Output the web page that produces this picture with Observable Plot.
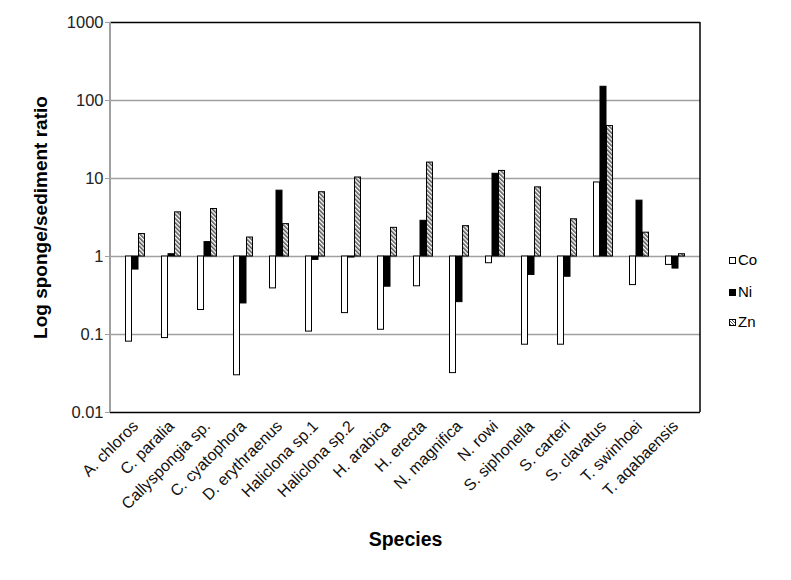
<!DOCTYPE html>
<html>
<head>
<meta charset="utf-8">
<script src="https://cdn.jsdelivr.net/npm/d3@7"></script>
<script src="https://cdn.jsdelivr.net/npm/@observablehq/plot@0.6"></script>
<style>
  html, body { margin: 0; padding: 0; background: #fff; }
  #wrap { position: relative; width: 791px; height: 580px; font-family: "Liberation Sans", Arial, sans-serif; }
  #wrap svg { position: absolute; left: 0; top: 0; }
  .legend { position: absolute; left: 729px; top: 0; font-size: 15px; color: #000; }
  .legend .item { position: absolute; left: 0; white-space: nowrap; line-height: 15px; }
  .legend .sw { display: inline-block; width: 5px; height: 5px; border: 1px solid #000; margin-right: 2px; vertical-align: 1px; }
</style>
</head>
<body>
<div id="wrap"></div>
<script>
const species = ["A. chloros","C. paralia","Callyspongia sp.","C. cyatophora","D. erythraenus","Haliclona sp.1","Haliclona sp.2","H. arabica","H. erecta","N. magnifica","N. rowi","S. siphonella","S. carteri","S. clavatus","T. swinhoei","T. aqabaensis"];
const co = [0.081,0.09,0.206,0.030,0.39,0.109,0.188,0.115,0.415,0.032,0.82,0.074,0.074,8.9,0.43,0.78];
const ni = [0.68,1.07,1.53,0.25,6.98,0.905,0.97,0.41,2.87,0.26,11.5,0.58,0.55,150,5.2,0.70];
const zn = [1.94,3.68,4.06,1.75,2.6,6.67,10.3,2.33,16.0,2.45,12.5,7.7,3.0,47,2.02,1.07];
const metals = ["Co","Ni","Zn"];
const yTicks = [0.01,0.1,1,10,100,1000];
const yTickLabels = ["0.01","0.1","1","10","100","1000"];
const gridValues = [0.1,1,10,100];
const frameValues = [0.01,1000];

const rows = species.map((s,i)=>({species:s, Co:co[i], Ni:ni[i], Zn:zn[i]}));
const font = "'Liberation Sans', Arial, sans-serif";

// vertical frame side as a function mark (uses the plot's own dimensions)
function sideLine(side, color, w) {
  return (index, scales, values, dimensions) => {
    const {width, height, marginLeft, marginRight, marginTop, marginBottom} = dimensions;
    const x = side === "left" ? marginLeft : width - marginRight;
    return d3.create("svg:line")
      .attr("x1", x).attr("x2", x)
      .attr("y1", marginTop).attr("y2", height - marginBottom)
      .attr("stroke", color).attr("stroke-width", w).node();
  };
}

const chart = Plot.plot({
  width: 791,
  height: 580,
  marginLeft: 110,
  marginRight: 91,
  marginTop: 22,
  marginBottom: 168,
  style: {fontFamily: font, fontSize: "13px", color: "#000", background: "#fff"},
  x: {domain: species, paddingInner: 0.824, paddingOuter: 0.412, label: null},
  y: {type: "log", domain: [0.01, 1000], label: null},
  marks: [
    Plot.ruleY(gridValues, {stroke: "#a0a0a0", strokeWidth: 1.5}),
    Plot.barY(rows, {x: "species", y1: 1, y2: "Co", dx: -6.5, fill: "#fff", stroke: "#000", strokeWidth: 1}),
    Plot.barY(rows, {x: "species", y1: 1, y2: "Ni", dx: 0, fill: "#000", stroke: "#000", strokeWidth: 1}),
    Plot.barY(rows, {x: "species", y1: 1, y2: "Zn", dx: 6.5, fill: "url(#hatchZn)", stroke: "#000", strokeWidth: 1}),
    Plot.ruleY(frameValues, {stroke: "#000", strokeWidth: 1.5}),
    sideLine("left", "#a0a0a0", 2),
    sideLine("right", "#000", 1.5),
    Plot.axisY({ticks: yTicks, tickFormat: (d) => yTickLabels[yTicks.indexOf(d)], tickSize: 5, tickPadding: 2, stroke: "#a0a0a0", fontSize: 16.5, fill: "#222", label: null}),
    Plot.axisX({tickRotate: -45, tickSize: 0, tickPadding: 11, fontSize: 16, fill: "#111", label: null}),
    Plot.text(["Log sponge/sediment ratio"], {frameAnchor: "left", textAnchor: "middle", rotate: -90, dx: -70, fontSize: 19, fontWeight: "bold", fill: "#000"}),
    Plot.text(["Species"], {frameAnchor: "bottom", textAnchor: "middle", dy: 133, fontSize: 19.5, fontWeight: "bold", fill: "#000"})
  ]
});

// hatch pattern definition
const ns = "http://www.w3.org/2000/svg";
const defs = document.createElementNS(ns, "defs");
defs.innerHTML = '<pattern id="hatchZn" patternUnits="userSpaceOnUse" width="3" height="3" patternTransform="rotate(-45)"><rect width="3" height="3" fill="#fff"/><line x1="0.75" y1="0" x2="0.75" y2="3" stroke="#555" stroke-width="1.6"/></pattern>';
chart.insertBefore(defs, chart.firstChild);

const wrap = document.getElementById("wrap");
wrap.appendChild(chart);

// legend
const legend = document.createElement("div");
legend.className = "legend";
const legendTop = [252, 284, 314];
const swatchStyle = {Co: "background:#fff", Ni: "background:#000", Zn: "background:repeating-linear-gradient(45deg,#555 0 1px,#fff 1px 2.2px)"};
metals.forEach((m,i) => {
  const it = document.createElement("div");
  it.className = "item";
  it.style.top = legendTop[i] + "px";
  it.innerHTML = '<span class="sw" style="' + swatchStyle[m] + '"></span>' + m;
  legend.appendChild(it);
});
wrap.appendChild(legend);
</script>
</body>
</html>
